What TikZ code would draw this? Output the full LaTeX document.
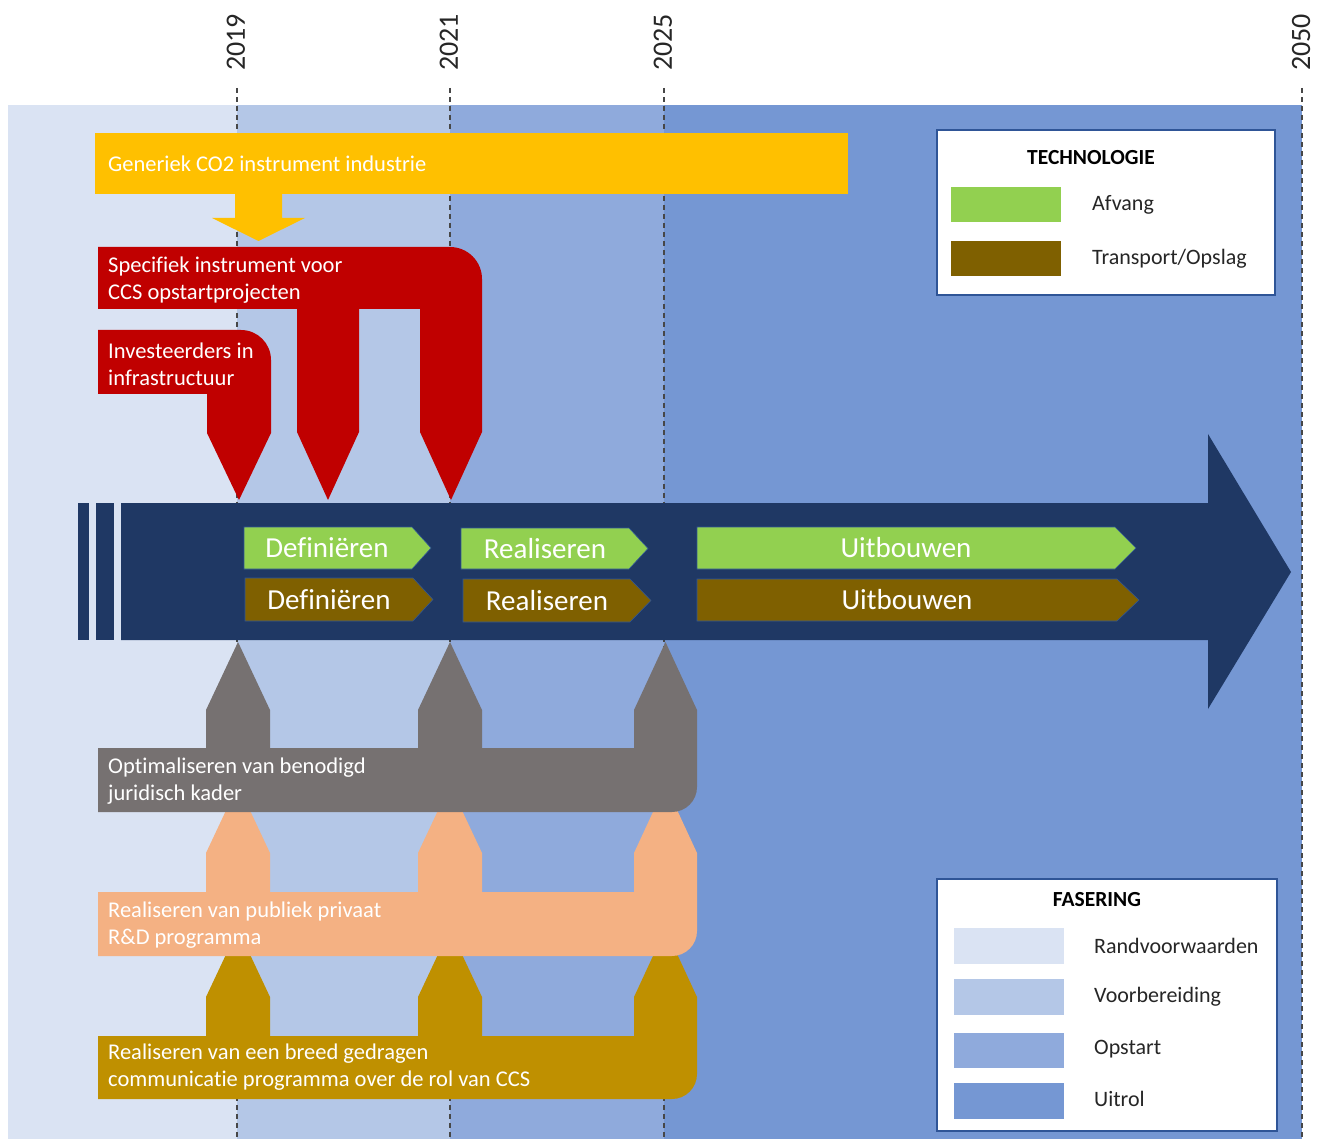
\documentclass[tikz,border=0pt]{standalone}
\usepackage{fontspec}
\setmainfont[Ligatures=NoCommon]{Carlito}
\definecolor{bgA}{HTML}{DAE3F3}
\definecolor{bgB}{HTML}{B4C7E7}
\definecolor{bgC}{HTML}{8FAADC}
\definecolor{bgD}{HTML}{7597D3}
\definecolor{navy}{HTML}{1F3864}
\definecolor{amber}{HTML}{FFC000}
\definecolor{crimson}{HTML}{C00000}
\definecolor{slate}{HTML}{767171}
\definecolor{peach}{HTML}{F4B183}
\definecolor{ochre}{HTML}{BF9000}
\definecolor{lgreen}{HTML}{92D050}
\definecolor{dbrown}{HTML}{7F6000}
\definecolor{edge}{HTML}{2F5597}
\definecolor{ink}{HTML}{262626}
\begin{document}
\begin{tikzpicture}[x=1pt,y=-1pt,
 lbl/.style={text=white, font=\fontsize{22.5}{27}\selectfont, align=left, anchor=west, inner sep=0},
 chevtxt/.style={text=white, font=\fontsize{29}{32}\selectfont, inner sep=0},
 yr/.style={text=ink, font=\fontsize{28}{30}\selectfont, rotate=90, anchor=west, inner sep=0},
 leg/.style={text=ink, font=\fontsize{22}{24}\selectfont, anchor=west, inner sep=0},
 legtitle/.style={text=black, font=\bfseries\fontsize{21.5}{24}\selectfont, inner sep=0},
 legbox/.style={fill=white, draw=edge, line width=1.2pt},
 guide/.style={draw=ink!85, line width=1.2pt, dash pattern=on 5pt off 4pt},
 chevfill/.style={draw=edge, line width=0.6pt}
]
\useasboundingbox (0,0) rectangle (1323,1139);
\fill[white] (0,0) rectangle (1323,1139);
% phase background
\fill[bgA] (8,105) rectangle (237,1139);
\fill[bgB] (237,105) rectangle (450,1139);
\fill[bgC] (450,105) rectangle (664,1139);
\fill[bgD] (664,105) rectangle (1302,1139);
% guide lines
\coordinate (g1t) at (237,88); \coordinate (g1b) at (237,1139);
\coordinate (g2t) at (450,88); \coordinate (g2b) at (450,1139);
\coordinate (g3t) at (664,88); \coordinate (g3b) at (664,1139);
\coordinate (g4t) at (1302,88); \coordinate (g4b) at (1302,1139);
\draw[guide] (g1t) -- (g1b);
\draw[guide] (g2t) -- (g2b);
\draw[guide] (g3t) -- (g3b);
\draw[guide] (g4t) -- (g4b);
% years
\node[yr] (y2019) at (236,71) {2019};
\node[yr] (y2021) at (449,71) {2021};
\node[yr] (y2025) at (663,71) {2025};
\node[yr] (y2050) at (1301,71) {2050};
% yellow bar
\fill[amber] (95,133) rectangle (848,194);
\fill[amber] (235,193) -- (235,218) -- (212,218) -- (258.5,241) -- (305,218) -- (282,218) -- (282,193) -- cycle;
\node[lbl] (gen) at (108,164) {Generiek CO2 instrument industrie};
% red shapes
\fill[crimson] (98,247) -- (450,247) .. controls (467.7,247) and (482,261.3) .. (482,279)
  -- (482,432) -- (451,500) -- (420,432) -- (420,309) -- (359,309) -- (359,432)
  -- (328,500) -- (297,432) -- (297,309) -- (98,309) -- cycle;
\node[lbl] (spec) at (108,280) {Specifiek instrument voor\\CCS opstartprojecten};
\fill[crimson] (98,330) -- (241,330) .. controls (257.6,330) and (271,343.4) .. (271,360)
  -- (271,433) -- (239,500) -- (207,433) -- (207,394) -- (98,394) -- cycle;
\node[lbl] (inv) at (108,364) {Investeerders in\\infrastructuur};
% main arrow
\fill[navy] (78,503) rectangle (88.5,640);
\fill[navy] (95.5,503) rectangle (113.5,640);
\fill[navy] (121,503) -- (1208,503) -- (1208,434) -- (1291,572) -- (1208,709) -- (1208,640) -- (121,640) -- cycle;
% chevrons
\filldraw[chevfill, fill=lgreen] (244,527) -- (412,527) -- (431,548) -- (412,569) -- (244,569) -- cycle;
\filldraw[chevfill, fill=dbrown] (245,578) -- (413,578) -- (433,599.5) -- (413,621) -- (245,621) -- cycle;
\filldraw[chevfill, fill=lgreen] (461,528) -- (629,528) -- (648,548.5) -- (629,569) -- (461,569) -- cycle;
\filldraw[chevfill, fill=dbrown] (463,579) -- (630,579) -- (651,600.5) -- (630,622) -- (463,622) -- cycle;
\filldraw[chevfill, fill=lgreen] (697,527) -- (1115,527) -- (1136,548) -- (1115,569) -- (697,569) -- cycle;
\filldraw[chevfill, fill=dbrown] (697,579) -- (1117,579) -- (1139,600) -- (1117,621) -- (697,621) -- cycle;
\node[chevtxt] (d1) at (327,548) {Definiëren};
\node[chevtxt] (d2) at (329,600) {Definiëren};
\node[chevtxt] (r1) at (545,549) {Realiseren};
\node[chevtxt] (r2) at (547,601) {Realiseren};
\node[chevtxt] (u1) at (906,548) {Uitbouwen};
\node[chevtxt] (u2) at (907,600) {Uitbouwen};
% gold (bottom)
\fill[ochre] (98,1036) -- (206,1036) -- (206,997) -- (238,929) -- (270,997) -- (270,1036)
  -- (418,1036) -- (418,997) -- (450,929) -- (482,997) -- (482,1036)
  -- (634,1036) -- (634,997) -- (665.5,929) -- (697,997) -- (697,1074)
  .. controls (697,1087.8) and (685.8,1099) .. (672,1099) -- (98,1099) -- cycle;
\node[lbl] (comm) at (108,1067) {Realiseren van een breed gedragen\\communicatie programma over de rol van CCS};
% peach (middle)
\fill[peach] (98,892) -- (206,892) -- (206,853) -- (238,785) -- (270,853) -- (270,892)
  -- (418,892) -- (418,853) -- (450,785) -- (482,853) -- (482,892)
  -- (634,892) -- (634,853) -- (665.5,785) -- (697,853) -- (697,931)
  .. controls (697,944.8) and (685.8,956) .. (672,956) -- (98,956) -- cycle;
\node[lbl] (rd) at (108,925) {Realiseren van publiek privaat\\R\&D programma};
% gray (top)
\fill[slate] (98,748) -- (206,748) -- (206,710) -- (238,642) -- (270,710) -- (270,748)
  -- (418,748) -- (418,710) -- (450,642) -- (482,710) -- (482,748)
  -- (634,748) -- (634,710) -- (665.5,642) -- (697,710) -- (697,787)
  .. controls (697,800.8) and (685.8,812) .. (672,812) -- (98,812) -- cycle;
\node[lbl] (jur) at (108,781) {Optimaliseren van benodigd\\juridisch kader};
% legend technologie
\draw[legbox] (937,130) rectangle (1275,295);
\node[legtitle] (tt) at (1091,158) {TECHNOLOGIE};
\fill[lgreen] (951,187) rectangle (1061,222);
\fill[dbrown] (951,241) rectangle (1061,276);
\node[leg] (la) at (1092,205) {Afvang};
\node[leg] (lt) at (1092,259) {Transport/Opslag};
% legend fasering
\draw[legbox] (937,879) rectangle (1277,1131);
\node[legtitle] (ft) at (1097,900) {FASERING};
\fill[bgA] (954,928) rectangle (1064,964);
\fill[bgB] (954,979) rectangle (1064,1015);
\fill[bgC] (954,1033) rectangle (1064,1068);
\fill[bgD] (954,1083) rectangle (1064,1119);
\node[leg] (f1) at (1094,946) {Randvoorwaarden};
\node[leg] (f2) at (1094,997) {Voorbereiding};
\node[leg] (f3) at (1094,1049) {Opstart};
\node[leg] (f4) at (1094,1099) {Uitrol};
\end{tikzpicture}
\end{document}
